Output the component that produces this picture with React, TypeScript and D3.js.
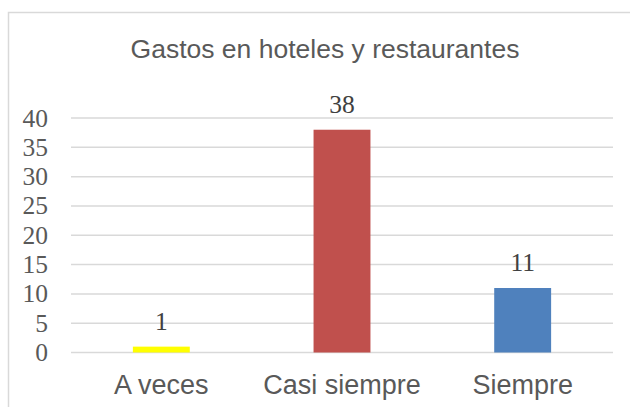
import React, { useRef, useEffect } from "react";
import { select, scaleLinear, scaleBand, range } from "d3";

// chart data
const categories = ["A veces", "Casi siempre", "Siempre"];
const values = [1, 38, 11];
const barColors = ["#FFFF00", "#C0504D", "#4F81BD"];
const yTicks = [0, 5, 10, 15, 20, 25, 30, 35, 40];
const title = "Gastos en hoteles y restaurantes";

const App = () => {
  const svgRef = useRef<SVGSVGElement>(null);

  useEffect(() => {
    const svg = select(svgRef.current);
    svg.selectAll("*").remove();

    const left = 71;
    const right = 613;
    const top = 118;
    const bottom = 352.5;

    const yScale = scaleLinear().domain([0, 40]).range([bottom, top]);
    const xScale = scaleBand<string>()
      .domain(categories)
      .range([left, right])
      .paddingInner(0.685)
      .paddingOuter(0.3425);

    // outer border of chart area (cropped at right/bottom)
    svg
      .append("rect")
      .attr("x", 8.5)
      .attr("y", 12.5)
      .attr("width", 640)
      .attr("height", 420)
      .attr("fill", "#fff")
      .attr("stroke", "#D9D9D9")
      .attr("stroke-width", 1.5);

    svg
      .append("text")
      .attr("x", 325)
      .attr("y", 58)
      .attr("text-anchor", "middle")
      .attr("font-family", "'Liberation Sans', Arial, sans-serif")
      .attr("font-size", 26.5)
      .attr("fill", "#595959")
      .text(title);

    // gridlines
    svg
      .selectAll("line.grid")
      .data(yTicks)
      .join("line")
      .attr("class", "grid")
      .attr("x1", left)
      .attr("x2", right)
      .attr("y1", (d) => yScale(d))
      .attr("y2", (d) => yScale(d))
      .attr("stroke", "#D9D9D9")
      .attr("stroke-width", 1.5);

    // y tick labels
    svg
      .selectAll("text.ytick")
      .data(yTicks)
      .join("text")
      .attr("class", "ytick")
      .attr("x", 48)
      .attr("y", (d) => yScale(d) + 8.5)
      .attr("text-anchor", "end")
      .attr("font-family", "'Liberation Serif', 'Times New Roman', serif")
      .attr("font-size", 25.5)
      .attr("fill", "#595959")
      .text((d) => d);

    const idx = range(categories.length);

    // bars
    svg
      .selectAll("rect.bar")
      .data(idx)
      .join("rect")
      .attr("class", "bar")
      .attr("x", (i) => xScale(categories[i]) as number)
      .attr("width", xScale.bandwidth())
      .attr("y", (i) => yScale(values[i]))
      .attr("height", (i) => yScale(0) - yScale(values[i]))
      .attr("fill", (i) => barColors[i]);

    // value labels
    svg
      .selectAll("text.val")
      .data(idx)
      .join("text")
      .attr("class", "val")
      .attr("x", (i) => (xScale(categories[i]) as number) + xScale.bandwidth() / 2)
      .attr("y", (i) => yScale(values[i]) - 17)
      .attr("text-anchor", "middle")
      .attr("font-family", "'Liberation Serif', 'Times New Roman', serif")
      .attr("font-size", 25.5)
      .attr("fill", "#404040")
      .text((i) => values[i]);

    // category labels
    svg
      .selectAll("text.cat")
      .data(categories)
      .join("text")
      .attr("class", "cat")
      .attr("x", (d) => (xScale(d) as number) + xScale.bandwidth() / 2)
      .attr("y", 394)
      .attr("text-anchor", "middle")
      .attr("font-family", "'Liberation Sans', Arial, sans-serif")
      .attr("font-size", 27)
      .attr("fill", "#595959")
      .text((d) => d);
  }, []);

  return (
    <svg
      ref={svgRef}
      width={630}
      height={407}
      style={{ position: "absolute", left: 0, top: 0, background: "#fff" }}
    />
  );
};

export default App;
